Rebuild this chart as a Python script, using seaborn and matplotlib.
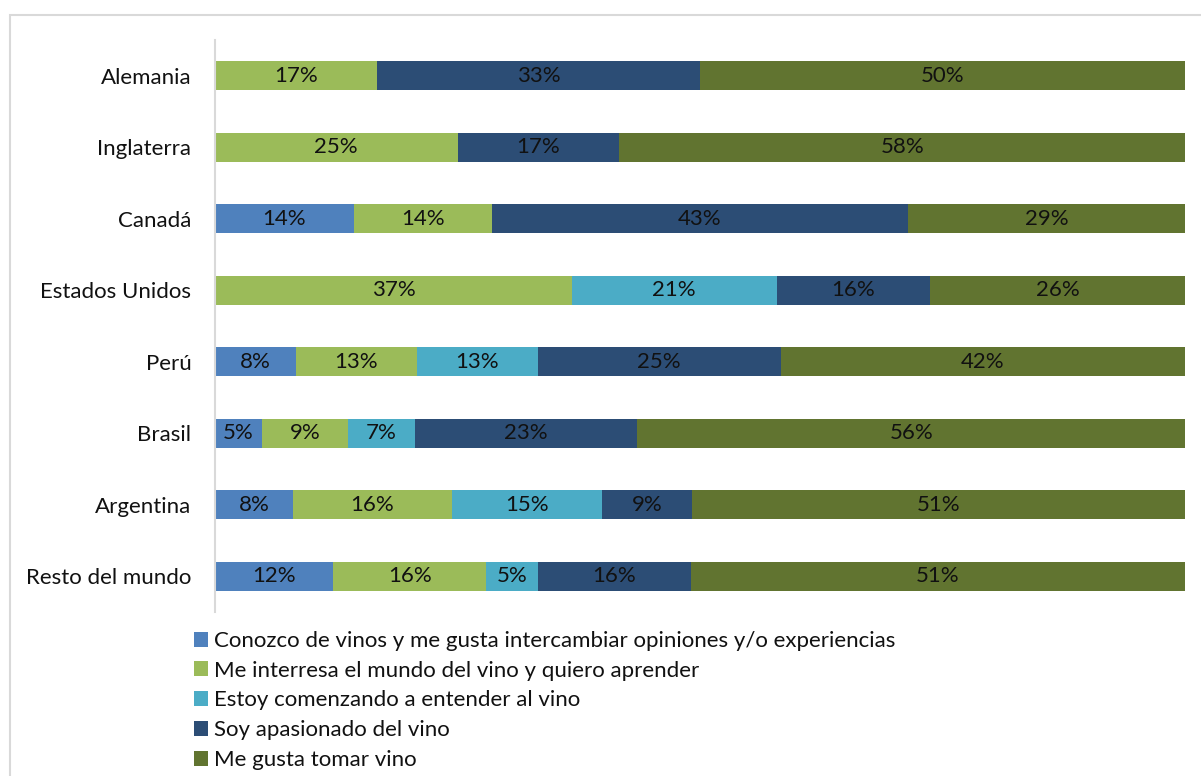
import numpy as np
import pandas as pd
import matplotlib
matplotlib.use("Agg")
import matplotlib.pyplot as plt
from matplotlib.patches import Patch, Rectangle
import seaborn as sns

countries = ["Alemania", "Inglaterra", "Canadá", "Estados Unidos", "Perú",
             "Brasil", "Argentina", "Resto del mundo"]
series = ["Conozco de vinos y me gusta intercambiar opiniones y/o experiencias",
          "Me interresa el mundo del vino y quiero aprender",
          "Estoy comenzando a entender al vino",
          "Soy apasionado del vino",
          "Me gusta tomar vino"]
conozco = [0.0, 0.0, 14.3, 0.0, 8.3, 4.8, 8.0, 12.2]
interesa = [16.7, 25.0, 14.3, 36.8, 12.5, 8.9, 16.4, 15.8]
comenzando = [0.0, 0.0, 0.0, 21.1, 12.5, 6.9, 15.4, 5.3]
apasionado = [33.3, 16.7, 42.9, 15.8, 25.0, 22.9, 9.3, 15.8]
tomar = [50.0, 58.3, 28.6, 26.3, 41.7, 56.4, 50.7, 51.0]
colors = ["#4F81BD", "#9BBB59", "#4BACC6", "#2C4D75", "#617430"]

FONT = "Lato"
FS = 16
sns.set_theme(style="white")
plt.rcParams["font.family"] = [FONT, "DejaVu Sans"]

W, H = 1201, 776
fig = plt.figure(figsize=(W / 100, H / 100), dpi=100)
ax = fig.add_axes([215 / W, (H - 612) / H, (1185 - 215) / W, (612 - 40) / H])

vals = np.array([conozco, interesa, comenzando, apasionado, tomar], dtype=float)
shares = vals / vals.sum(axis=0)
cum = np.cumsum(shares, axis=0)

# stacked bars via overlay of cumulative totals (draw largest first)
for i in range(len(series) - 1, -1, -1):
    df = pd.DataFrame({"pais": countries, "v": cum[i]})
    sns.barplot(data=df, x="v", y="pais", order=countries, color=colors[i],
                saturation=1, width=0.4, ax=ax, orient="h", linewidth=0)

# labels
for i in range(len(series)):
    for j in range(len(countries)):
        v = vals[i, j]
        if v <= 0:
            continue
        center = cum[i, j] - shares[i, j] / 2
        ax.text(center, j, f"{int(np.floor(v + 0.5))}%", ha="center", va="center",
                fontsize=FS, color="#111111")

ax.set_xlim(0, 1)
ax.set_ylim(len(countries) - 0.5, -0.5)
ax.set_xlabel("")
ax.set_ylabel("")
ax.set_xticks([])
ax.tick_params(axis="y", length=0, pad=17, labelsize=FS, labelcolor="#111111")
for s in ["top", "right", "bottom"]:
    ax.spines[s].set_visible(False)
ax.spines["left"].set_color("#D9D9D9")
ax.spines["left"].set_linewidth(1.5)

handles = [Patch(facecolor=c, edgecolor="none") for c in colors]
fig.legend(handles, series, loc="upper left",
           bbox_to_anchor=(185 / W, (H - 622) / H), frameon=False,
           fontsize=FS, handlelength=0.65, handleheight=0.65,
           handletextpad=0.25, labelspacing=0.44, borderaxespad=0,
           labelcolor="#111111")

fig.add_artist(Rectangle((10 / W, -0.1), 1.2, (H - 15) / H + 0.1,
                         transform=fig.transFigure, fill=False,
                         edgecolor="#D9D9D9", linewidth=1.5))

fig.savefig("out.png", dpi=100, facecolor="white")
